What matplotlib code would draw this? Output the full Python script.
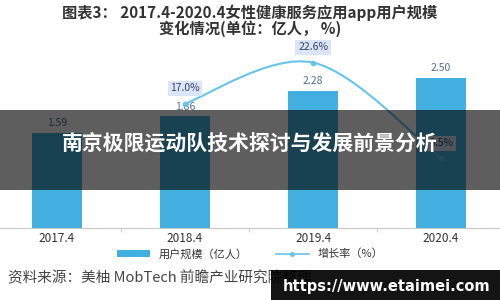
import numpy as np
import matplotlib
matplotlib.use('Agg')
import matplotlib.pyplot as plt
from matplotlib.path import Path
from matplotlib.patches import PathPatch, Rectangle

plt.rcParams['font.family'] = ['Noto Sans CJK SC', 'DejaVu Sans']

categories = ['2017.4', '2018.4', '2019.4', '2020.4']
users = [1.59, 1.86, 2.28, 2.50]           # 亿人
growth_idx = [1, 2, 3]
growth = [17.0, 22.6, 9.5]                 # %
growth_labels = ['17.0%', '22.6%', '9.5%']

BAR_COLOR = '#41b0e0'
LINE_COLOR = '#66c3ec'


def smooth_path(xs, ys):
    # Catmull-Rom style cubic bezier through the data points
    pts = np.column_stack([xs, ys]).astype(float)
    verts = [pts[0]]
    codes = [Path.MOVETO]
    n = len(pts)
    for i in range(n - 1):
        p0 = pts[i - 1] if i > 0 else pts[i]
        p1, p2 = pts[i], pts[i + 1]
        p3 = pts[i + 2] if i + 2 < n else pts[i + 1]
        c1 = p1 + (p2 - p0) / 6
        c2 = p2 - (p3 - p1) / 6
        verts += [c1, c2, p2]
        codes += [Path.CURVE4] * 3
    return Path(verts, codes)


fig = plt.figure(figsize=(5, 3), dpi=100)
ax = fig.add_axes([0, 0.24, 1, 0.627])
x = np.arange(len(categories))
bars = ax.bar(x, users, width=0.39, color=BAR_COLOR, zorder=2)
for xi, v in zip(x, users):
    ax.text(xi, v + 0.08, f'{v:.2f}', ha='center', va='bottom', fontsize=7.5, color='#566d8c')

ax.set_xlim(-0.445, 3.46)
ax.set_ylim(0, 3.133)
ax.set_xticks(x)
ax.set_xticklabels(categories, fontsize=8.5, color='#333333')
ax.set_xticks([0.5, 1.5, 2.5], minor=True)
ax.tick_params(axis='x', which='major', length=0, pad=3)
ax.tick_params(axis='x', which='minor', length=3, color='#bbbbbb')
ax.set_yticks([])
for s in ['top', 'right', 'left']:
    ax.spines[s].set_visible(False)
ax.spines['bottom'].set_color('#c8c8c8')

ax2 = ax.twinx()
ax2.set_ylim(0, 25.7)
ax2.set_yticks([])
for s in ax2.spines.values():
    s.set_visible(False)
ax2.add_patch(PathPatch(smooth_path(growth_idx, growth), facecolor='none',
                        edgecolor=LINE_COLOR, lw=1.5, zorder=3))
line, = ax2.plot(growth_idx, growth, linestyle='none', marker='o', markersize=3,
                 color=LINE_COLOR, zorder=4)
for xi, g, lab in zip(growth_idx, growth, growth_labels):
    ax2.annotate(lab, (xi, g), xytext=(0, 11), textcoords='offset points',
                 ha='center', va='center', fontsize=7.5, color='#33476a',
                 bbox=dict(boxstyle='square,pad=0.25', fc='#dbe5f5', ec='none'))

legend_line, = ax2.plot([], [], color=LINE_COLOR, lw=1.2, marker='o', markersize=2.5)
fig.legend([bars, legend_line], ['用户规模（亿人）', '增长率（%）'], loc='center',
           bbox_to_anchor=(0.5, 1 - 254 / 300), ncol=2, frameon=False, fontsize=8,
           handlelength=3, handleheight=0.5, columnspacing=2.5, labelcolor='#333333')

fig.text(0.5, 1 - 13 / 300, '图表3： 2017.4-2020.4女性健康服务应用app用户规模',
         ha='center', va='center', fontsize=11, fontweight='bold', color='#333333')
fig.text(0.5, 1 - 29 / 300, '变化情况(单位：亿人， %)',
         ha='center', va='center', fontsize=11, fontweight='bold', color='#333333')
fig.text(8 / 500, 1 - 278 / 300, '资料来源：美柚 MobTech 前瞻产业研究院整理',
         ha='left', va='center', fontsize=10.5, color='#444444')

# overlay banner
fig.patches.append(Rectangle((0, (300 - 190) / 300), 1, 80 / 300,
                             transform=fig.transFigure, facecolor='black', alpha=0.63,
                             edgecolor='none', zorder=10))
fig.text(0.5, 1 - 143 / 300, '南京极限运动队技术探讨与发展前景分析', ha='center', va='center',
         fontsize=15, fontweight='bold', color='white', zorder=11)

# url box
fig.patches.append(Rectangle((271 / 500, 0), 229 / 500, 30 / 300,
                             transform=fig.transFigure, facecolor='black', alpha=0.92,
                             edgecolor='none', zorder=10))
fig.text(387 / 500, 1 - 286 / 300, 'https://www.etaimei.com', ha='center', va='center',
         fontsize=10.5, fontweight='bold', color='white', zorder=11, family='DejaVu Sans')

fig.savefig('out.png', dpi=100)
